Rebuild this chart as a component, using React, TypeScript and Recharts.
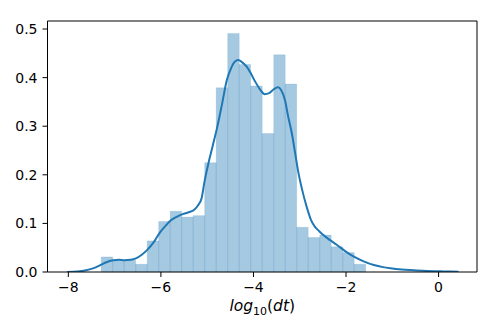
import {
  ComposedChart,
  XAxis,
  YAxis,
  Line,
  ReferenceArea,
  ReferenceLine,
} from "recharts";

// histogram: first bin edge, bin width and bin densities
const HIST_START = -7.29;
const BIN_WIDTH = 0.2485;
const densities = [
  0.031, 0.024, 0.024, 0.016, 0.064, 0.104, 0.125, 0.113, 0.116, 0.225, 0.379,
  0.491, 0.427, 0.383, 0.285, 0.447, 0.387, 0.092, 0.071, 0.076, 0.052, 0.04,
  0.016,
];

// kde curve
const kdeX = [
  -8.03, -7.8, -7.64, -7.45, -7.31, -7.15, -7.03, -6.9, -6.79, -6.65, -6.54,
  -6.42, -6.3, -6.15, -6.03, -5.9, -5.79, -5.65, -5.53, -5.4, -5.28, -5.2,
  -5.12, -5.06, -4.97, -4.88, -4.79, -4.68, -4.575, -4.48, -4.4, -4.33, -4.25,
  -4.15, -4.07, -3.97, -3.86, -3.76, -3.66, -3.56, -3.47, -3.4, -3.32, -3.25,
  -3.17, -3.1, -3.03, -2.95, -2.85, -2.76, -2.67, -2.58, -2.49, -2.35, -2.2,
  -2.02, -1.84, -1.62, -1.4, -1.2, -1.04, -0.8, -0.54, -0.25, 0.04, 0.25, 0.43,
];
const kdeY = [
  0.0, 0.001, 0.003, 0.008, 0.014, 0.021, 0.024, 0.025, 0.024, 0.025, 0.028,
  0.035, 0.045, 0.062, 0.08, 0.095, 0.106, 0.114, 0.119, 0.123, 0.128, 0.137,
  0.152, 0.185, 0.225, 0.26, 0.295, 0.345, 0.395, 0.42, 0.433, 0.436, 0.432,
  0.423, 0.411, 0.393, 0.376, 0.366, 0.368, 0.376, 0.38, 0.374, 0.354, 0.32,
  0.285, 0.245, 0.205, 0.17, 0.134, 0.108, 0.093, 0.084, 0.076, 0.066, 0.056,
  0.043, 0.032, 0.022, 0.0144, 0.01, 0.0076, 0.005, 0.0035, 0.002, 0.0014,
  0.0008, 0.0003,
];

const xTicks = [-8, -6, -4, -2, 0];
const yTicks = [0, 0.1, 0.2, 0.3, 0.4, 0.5];

const X_DOMAIN = [-8.45, 0.83];
const Y_DOMAIN = [0, 0.5165];

const BLUE = "#1f77b4";
const FONT = "'DejaVu Sans', sans-serif";

const bins = densities.map((d, i) => ({
  x1: HIST_START + i * BIN_WIDTH,
  x2: HIST_START + (i + 1) * BIN_WIDTH,
  y: d,
}));
const kde = kdeX.map((x, i) => ({ x, y: kdeY[i] }));

const fmtX = (v: number) => (v < 0 ? `\u2212${Math.abs(v)}` : `${v}`);
const fmtY = (v: number) => v.toFixed(1);

function AxisLabel(props: any) {
  const vb = props.viewBox || {};
  const cx = vb.x + vb.width / 2;
  const y = vb.y + 39;
  return (
    <text x={cx} y={y} textAnchor="middle" fontSize={15.5} fontFamily={FONT} fill="#000">
      <tspan fontStyle="italic">log</tspan>
      <tspan fontSize={11} dy={3.5}>10</tspan>
      <tspan dy={-3.5}>(</tspan>
      <tspan fontStyle="italic">dt</tspan>
      <tspan>)</tspan>
    </text>
  );
}

export default function App() {
  const tick = { fill: "#000", fontSize: 14, fontFamily: FONT };
  return (
    <div style={{ position: "absolute", left: 0, top: 0, width: 498, height: 332, background: "#fff" }}>
      <ComposedChart
        width={498}
        height={332}
        margin={{ top: 21, right: 21, left: 0, bottom: 30 }}
      >
        <XAxis
          dataKey="x"
          type="number"
          domain={X_DOMAIN}
          allowDataOverflow
          ticks={xTicks}
          tickFormatter={fmtX}
          tick={tick}
          tickSize={5}
          tickMargin={5}
          stroke="#000"
          height={30}
          label={{ content: AxisLabel }}
        />
        <YAxis
          type="number"
          domain={Y_DOMAIN}
          allowDataOverflow
          ticks={yTicks}
          tickFormatter={fmtY}
          tick={tick}
          tickSize={5}
          tickMargin={5}
          stroke="#000"
          width={47.5}
        />
        {bins.map((b, i) => (
          <ReferenceArea
            key={i}
            x1={b.x1}
            x2={b.x2}
            y1={0}
            y2={b.y}
            fill={BLUE}
            fillOpacity={0.4}
            stroke={BLUE}
            strokeOpacity={0.12}
            strokeWidth={1}
          />
        ))}
        <Line
          data={kde}
          dataKey="y"
          type="monotone"
          stroke={BLUE}
          strokeWidth={2}
          dot={false}
          isAnimationActive={false}
        />
        <ReferenceLine y={Y_DOMAIN[1]} stroke="#000" strokeWidth={1} ifOverflow="extendDomain" />
        <ReferenceLine x={X_DOMAIN[1]} stroke="#000" strokeWidth={1} ifOverflow="extendDomain" />
      </ComposedChart>
    </div>
  );
}
